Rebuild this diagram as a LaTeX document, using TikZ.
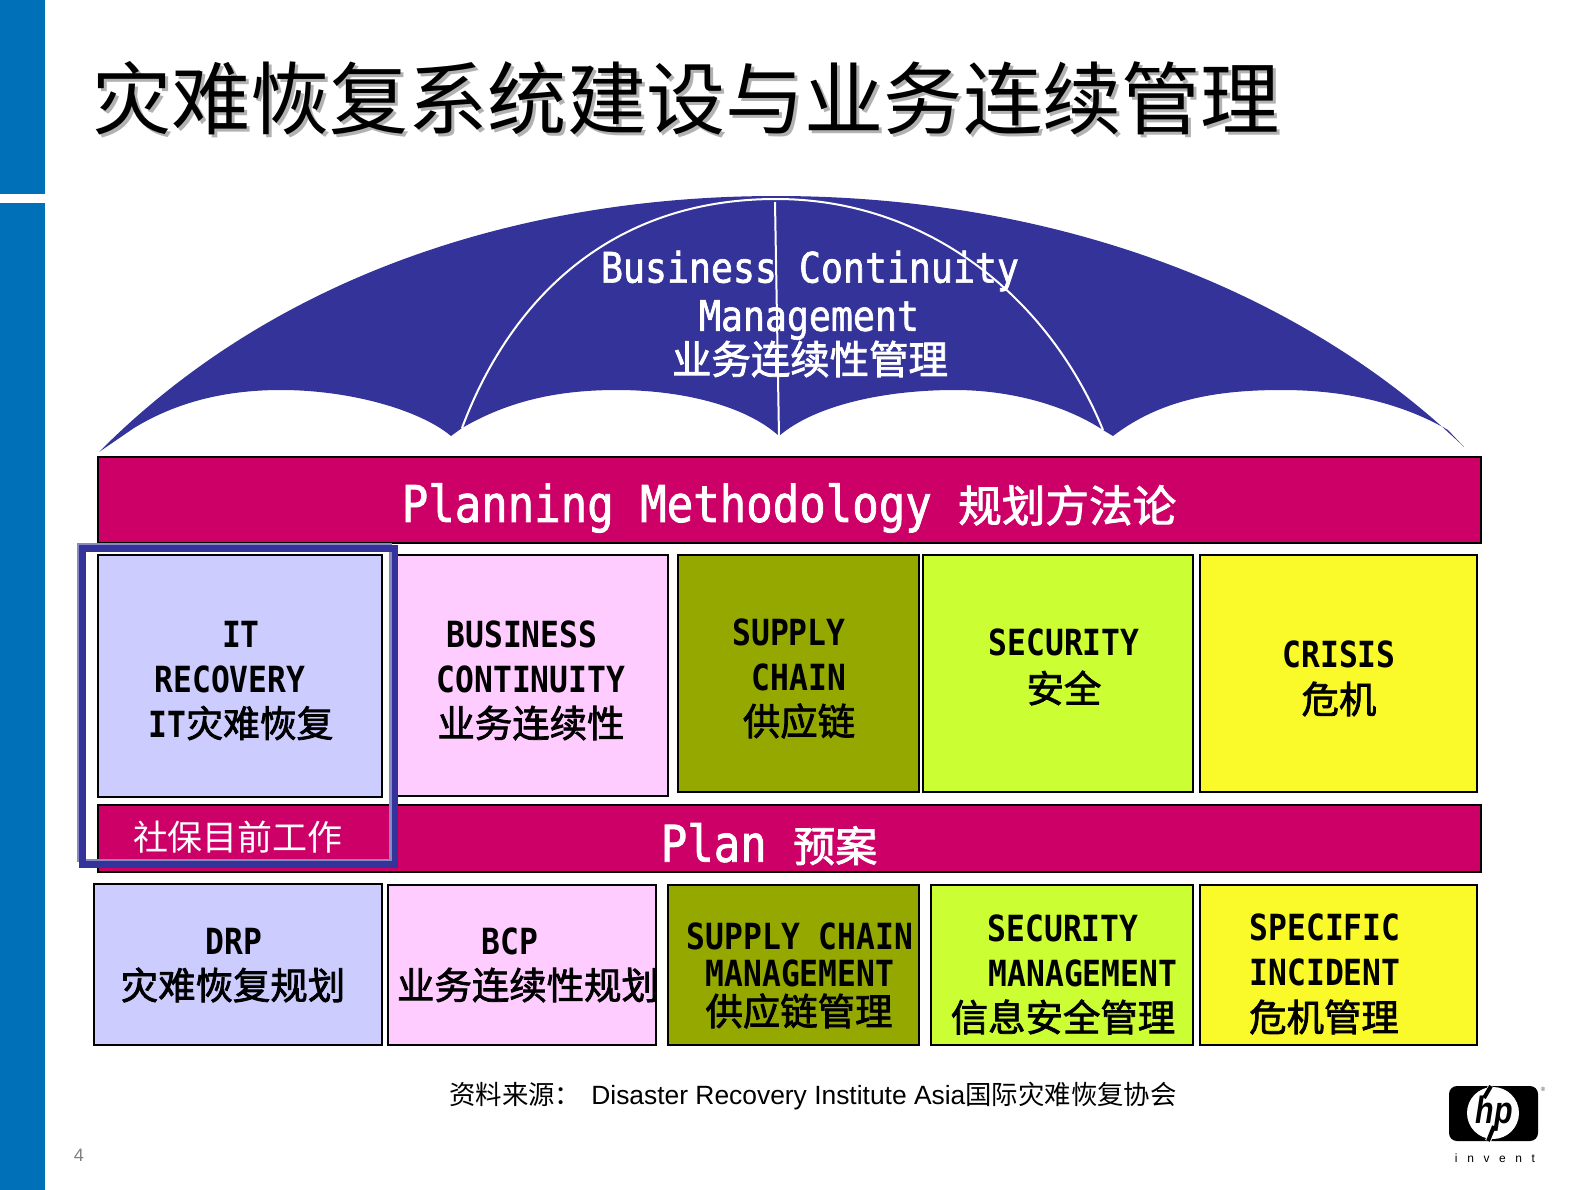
\documentclass[tikz,border=0pt]{standalone}
\usepackage{fontspec}
\usepackage{tikz}
\newfontfamily\cjk{Noto Sans CJK SC}
\newfontfamily\cjkmid[FakeBold=2]{Noto Sans CJK SC}
\newfontfamily\latfam[FakeStretch=0.87]{DejaVu Sans Mono}
\newfontfamily\latmid[FakeStretch=0.87,FakeBold=1.5]{DejaVu Sans Mono}
\newfontfamily\arial{Liberation Sans}
\newfontfamily\arialsp[LetterSpace=80]{Liberation Sans}
\newfontfamily\hpfont[FakeStretch=0.8]{Liberation Sans}
\definecolor{sidebar}{HTML}{0070B8}
\definecolor{navy}{HTML}{333399}
\definecolor{navylight}{HTML}{8888C4}
\definecolor{crimson}{HTML}{CC0066}
\definecolor{lavender}{HTML}{CCCCFF}
\definecolor{pinkbox}{HTML}{FFCCFF}
\definecolor{olivebox}{HTML}{94A800}
\definecolor{limebox}{HTML}{CCFF33}
\definecolor{yellowbox}{HTML}{FAFA2A}
\tikzset{
  box/.style={draw=black, line width=1pt},
  label/.style={inner sep=0pt, font=\fontsize{18}{20}\selectfont\bfseries\latfam},
  cjklabel/.style={inner sep=0pt, font=\fontsize{18.7}{20}\selectfont\cjkmid},
  barlabel/.style={inner sep=0pt, text=white, font=\fontsize{25.3}{28}\selectfont\latmid},
  domelabel/.style={inner sep=0pt, text=white, font=\fontsize{21}{24}\selectfont\latmid}
}
\begin{document}
\begin{tikzpicture}[x=0.5pt,y=-0.5pt]
\useasboundingbox (0,0) rectangle (1587,1190);
% Side bar
\fill[sidebar] (0,0) rectangle (45,194);
\fill[sidebar] (0,203) rectangle (45,1190);
% Title
\node[inner sep=0pt, text=black!30, font=\fontsize{39.6}{42}\selectfont\cjk] (titleshadow) at (689,101) {灾难恢复系统建设与业务连续管理};
\node[inner sep=0pt, font=\fontsize{39.6}{42}\selectfont\cjk] (title) at (686,98) {灾难恢复系统建设与业务连续管理};
% Umbrella
\fill[navy] (99,452) .. controls (280,270) and (530,196) .. (776,196)
  .. controls (1040,196) and (1290,280) .. (1464,447) -- (1448,430)
  .. controls (1405,405) and (1350,390) .. (1282,390)
  .. controls (1215,390) and (1160,400) .. (1113,436) -- (1103,430)
  .. controls (1065,405) and (1010,390) .. (955,390)
  .. controls (885,390) and (815,405) .. (779,436)
  .. controls (745,405) and (680,390) .. (617,390)
  .. controls (560,390) and (510,400) .. (462,428) -- (451,436)
  .. controls (420,410) and (350,390) .. (281,390)
  .. controls (230,390) and (180,400) .. (134,428) -- cycle;
\draw[white, line width=1pt] (462,428) .. controls (510,300) and (610,199) .. (776,199)
  .. controls (930,199) and (1050,300) .. (1103,430);
\draw[white, line width=1pt] (775,202) -- (779,436);
\node[domelabel] (domea) at (810,271) {Business Continuity};
\node[domelabel] (domeb) at (809,320) {Management};
\node[domelabel, font=\fontsize{19.7}{22}\selectfont\cjkmid] (domec) at (810,359) {业务连续性管理};
% Bars
\draw[box, fill=crimson] (98,457) rectangle (1481,543);
\draw[box, fill=crimson] (98,805) rectangle (1481,872);
\node[barlabel] (planning) at (789,508) {Planning Methodology {\fontsize{21.8}{24}\selectfont\cjkmid 规划方法论}};
\node[barlabel] (planlabel) at (769,844) {Plan {\fontsize{21}{24}\selectfont\cjkmid 预案}};
\node[inner sep=0pt, text=white, font=\fontsize{17.5}{20}\selectfont\cjk] (current) at (238,837) {社保目前工作};
% Upper row
\draw[box, fill=lavender] (98,555) rectangle (381.5,797);
\draw[box, fill=pinkbox] (396,555) rectangle (668,796);
\draw[box, fill=olivebox] (678,555) rectangle (919,792);
\draw[box, fill=limebox] (923,555) rectangle (1193,792);
\draw[box, fill=yellowbox] (1200,555) rectangle (1477,792);
\node[label] (ita) at (241,634) {IT};
\node[label] (itb) at (230,679) {RECOVERY};
\node[label] (itc) at (241,723) {IT{\fontsize{18.4}{20}\selectfont\mdseries\cjkmid 灾难恢复}};
\node[label] (bca) at (522,634) {BUSINESS};
\node[label] (bcb) at (531,679) {CONTINUITY};
\node[cjklabel] (bcc) at (531,723) {业务连续性};
\node[label] (supa) at (789,632) {SUPPLY};
\node[label] (supb) at (799,677) {CHAIN};
\node[cjklabel] (supc) at (799,721) {供应链};
\node[label] (seca) at (1064,642) {SECURITY};
\node[cjklabel] (secb) at (1064,688) {安全};
\node[label] (cria) at (1339,654) {CRISIS};
\node[cjklabel] (crib) at (1339,699) {危机};
% Lower row
\draw[box, fill=lavender] (94,884) rectangle (381.5,1045);
\draw[box, fill=pinkbox] (388,885) rectangle (656,1045);
\draw[box, fill=olivebox] (668,885) rectangle (919,1045);
\draw[box, fill=limebox] (931,885) rectangle (1193,1045);
\draw[box, fill=yellowbox] (1200,885) rectangle (1477,1045);
\node[label] (drpa) at (234,941) {DRP};
\node[cjklabel] (drpb) at (233,985) {灾难恢复规划};
\node[label] (bcpa) at (510,941) {BCP};
\node[cjklabel] (bcpb) at (528,985) {业务连续性规划};
\node[label] (scma) at (800,936) {SUPPLY CHAIN};
\node[label] (scmb) at (800,973) {MANAGEMENT};
\node[cjklabel] (scmc) at (799,1011) {供应链管理};
\node[label] (sma) at (1063,928) {SECURITY};
\node[label] (smb) at (1083,973) {MANAGEMENT};
\node[cjklabel] (smc) at (1063,1017) {信息安全管理};
\node[label] (sia) at (1325,927) {SPECIFIC};
\node[label] (sib) at (1325,972) {INCIDENT};
\node[cjklabel] (sic) at (1324,1017) {危机管理};
% Highlight frame
\draw[navylight, line width=1.2pt] (78.5,544.5) rectangle (390.5,860.5);
\draw[navy, line width=3.25pt] (82.5,548.5) rectangle (395,864.5);
% Source and page number
\node[inner sep=0pt, font=\fontsize{13.2}{15}\selectfont\arial] (source) at (813,1096) {{\cjk 资料来源：}\hspace{5pt}Disaster Recovery Institute Asia{\cjk 国际灾难恢复协会}};
\node[inner sep=0pt, text=black!50, font=\fontsize{9}{10}\selectfont\arial] (pagenum) at (79,1155) {4};
% Logo
\fill[black, rounded corners=4pt] (1449,1086) rectangle (1538,1141);
\fill[white] (1493,1113) circle (26);
\draw[white, line width=3pt] (1491,1086) -- (1486,1097);
\draw[white, line width=3pt] (1493,1128) -- (1488,1141);
\draw[black, line width=2pt] (1491,1086) -- (1484,1098);
\draw[black, line width=2pt] (1494,1126) -- (1488,1141);
\node[anchor=base, inner sep=0pt, font=\fontsize{19}{20}\selectfont\bfseries\itshape\hpfont] (hp) at (1494,1123) {hp};
\node[inner sep=0pt, text=black!70, font=\fontsize{3}{3}\selectfont\arial] (reg) at (1543,1089) {®};
\node[inner sep=0pt, font=\fontsize{6}{7}\selectfont\arialsp] (invent) at (1495,1158) {invent};
\end{tikzpicture}
\end{document}
